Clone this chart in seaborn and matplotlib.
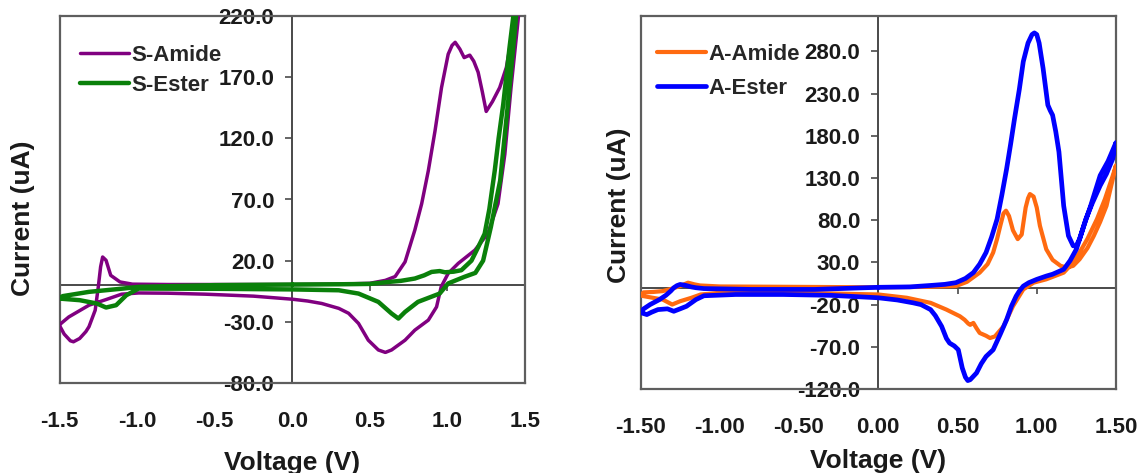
import matplotlib
matplotlib.use("Agg")
import matplotlib.pyplot as plt
import matplotlib.ticker as mticker
import numpy as np
import seaborn as sns

# ---------------- data (cyclic voltammograms, path order) ----------------
s_amide_v = [0.0, 0.3, 0.5, 0.60, 0.663, 0.727, 0.79, 0.834, 0.877, 0.92, 0.962, 1.005, 1.03, 1.05,
             1.08, 1.108, 1.144, 1.17, 1.198, 1.225, 1.25, 1.29, 1.337, 1.38, 1.41, 1.435, 1.47, 1.50,
             1.475, 1.455, 1.41, 1.37, 1.326, 1.26, 1.177, 1.07, 1.005, 0.96, 0.93, 0.877, 0.79, 0.727,
             0.64, 0.60, 0.555, 0.49, 0.427, 0.363, 0.30, 0.19, 0.10, 0.0, -0.25, -0.56, -0.8, -0.99,
             -1.10, -1.20, -1.31, -1.44, -1.49, -1.50,
             -1.47, -1.43, -1.41, -1.37, -1.33, -1.31, -1.27, -1.25, -1.235, -1.222, -1.20, -1.17,
             -1.11, -1.03, -0.8, -0.4, 0.0]
s_amide_i = [0.5, 0.8, 1.5, 3.9, 7, 19, 45, 66.5, 93.6, 126, 161.5, 188.8, 196, 198.5,
             193, 186, 188, 183, 174, 158, 142, 150, 161.5, 178, 200, 220, 255, 285,
             245, 216, 161.5, 107, 66.5, 42, 28.6, 17.8, 9.6, -1.3, -17.8, -28.6, -36.8, -45,
             -53, -55, -53, -45, -31.3, -23, -19, -15, -13, -11.5, -9, -7.4, -6.6, -6.4,
             -7.4, -11.8, -16.4, -26, -31.3, -33,
             -40, -45.5, -46.3, -43.6, -38, -34, -20.5, -1.5, 15, 23, 20.3, 8,
             2.6, 0.8, 0.5, 0.5, 0.5]

s_ester_v = [0.0, 0.3, 0.5, 0.62, 0.70, 0.79, 0.85, 0.898, 0.95, 0.984, 1.04, 1.09, 1.155, 1.198,
             1.24, 1.27, 1.305, 1.33, 1.36, 1.40, 1.425, 1.45, 1.50,
             1.455, 1.44, 1.39, 1.34, 1.28, 1.23, 1.18, 1.11, 1.005, 0.95, 0.81, 0.727, 0.684,
             0.64, 0.555, 0.427, 0.30, 0.0, -0.5, -0.99, -1.07, -1.135, -1.20, -1.26, -1.37, -1.50,
             -1.48, -1.31, -1.09, -0.99, -0.5, 0.0]
s_ester_i = [0.5, 0.7, 1.0, 2.6, 3.5, 5.4, 8, 10.8, 11.5, 10.5, 11, 12.2, 20, 31,
             42, 62, 93.6, 120, 148, 194, 220, 250, 300,
             240, 216, 148, 85.5, 47.5, 20, 10, 6.8, 1.4, -6.9, -13.7, -21.9, -27.3,
             -23.2, -13.7, -6.9, -4.2, -3.5, -3, -2.8, -8.3, -16.4, -18.3, -15, -12.3, -11,
             -9, -5.5, -2.8, -1.4, 0, 0.5]

a_amide_v = [0.0, 0.3, 0.49, 0.56, 0.64, 0.69, 0.725, 0.75, 0.77, 0.79, 0.806, 0.825, 0.85, 0.88,
             0.905, 0.915, 0.93, 0.945, 0.957, 0.98, 1.00, 1.02, 1.06, 1.10, 1.15, 1.19, 1.23,
             1.27, 1.32, 1.36, 1.40, 1.44, 1.50,
             1.48, 1.43, 1.38, 1.32, 1.27, 1.22, 1.17, 1.06, 0.98, 0.915, 0.85, 0.79, 0.736, 0.705,
             0.68, 0.64, 0.62, 0.60, 0.58, 0.568, 0.545, 0.515, 0.43, 0.33, 0.18, 0.0, -0.5, -1.0,
             -1.12, -1.18, -1.25, -1.30, -1.36, -1.48, -1.50,
             -1.48, -1.42, -1.36, -1.30, -1.25, -1.20, -1.16, -1.125, -1.0, -0.5, 0.0]
a_amide_i = [0.5, 1, 2, 7, 17.9, 28, 41.7, 58, 73.4, 88, 91.3, 85, 68, 57.6,
             63, 76, 95, 106, 111, 108, 95, 73.4, 45.6, 33, 26, 23.8, 26,
             33.7, 47, 61.5, 78, 97, 145,
             133, 105, 81.4, 58, 41.7, 28, 17.9, 10, 6, -2, -21.9, -45.8, -57.7, -59.6,
             -56.9, -53.6, -48, -41.7, -44, -42.5, -38, -33.8, -25.9, -17.9, -11.9, -8, -6, -6,
             -8, -12, -16, -19.9, -14, -10, -9,
             -5.5, -5, -4, -1, 2, 6, 4, 2.7, 1.5, 1, 0.5]

a_ester_v = [0.0, 0.2, 0.33, 0.42, 0.49, 0.55, 0.60, 0.64, 0.68, 0.715, 0.75, 0.78, 0.81, 0.835,
             0.86, 0.89, 0.915, 0.945, 0.97, 0.985, 1.00, 1.015, 1.04, 1.07, 1.085, 1.10, 1.12,
             1.14, 1.17, 1.20, 1.23, 1.25, 1.27, 1.30, 1.34, 1.40, 1.45, 1.50,
             1.48, 1.44, 1.40, 1.35, 1.31, 1.25, 1.21, 1.17, 1.10, 1.06, 1.00, 0.95, 0.915, 0.89,
             0.87, 0.84, 0.81, 0.77, 0.725, 0.68, 0.65, 0.62, 0.58, 0.565, 0.55, 0.53, 0.505, 0.48,
             0.45, 0.43, 0.40, 0.36, 0.33, 0.27, 0.22, 0.12, 0.0, -0.3, -0.6, -0.9, -1.10, -1.15,
             -1.21, -1.25, -1.29, -1.33, -1.39, -1.43, -1.46, -1.49, -1.50,
             -1.48, -1.44, -1.41, -1.38, -1.34, -1.31, -1.29, -1.27, -1.25, -1.22, -1.18, -1.15,
             -1.1, -0.8, -0.4, 0.0]
a_ester_i = [0.5, 1, 2.7, 4, 6, 11, 17.9, 28, 41.7, 60, 81.4, 110, 141, 170,
             200.6, 235, 268, 290, 300, 302, 300, 290, 260, 216.5, 210, 204.5, 185,
             161, 97, 61.5, 49.6, 50, 57.6, 75, 97, 133, 150, 172,
             153, 135, 121, 100, 81.4, 45.6, 32, 21.8, 16, 13.8, 9.9, 6, 1.9, -4,
             -10, -22, -37.8, -55, -73.5, -81.5, -90, -101, -109, -110, -106, -95, -73.5, -69,
             -65.6, -60, -45.8, -33, -25.9, -20, -17.9, -14.5, -11.9, -9, -8, -8, -9.5, -14,
             -22, -25, -27.9, -25, -25.9, -29, -31.8, -30, -29,
             -25, -20, -17, -14, -9, -4, 0, 2.5, 3.9, 3, 1, 0,
             -1, -2, -2, 0.5]

left_labels = ["S-Amide", "S-Ester"]
right_labels = ["A-Amide", "A-Ester"]
left_xticks = [-1.5, -1.0, -0.5, 0.0, 0.5, 1.0, 1.5]
right_xticks = [-1.5, -1.0, -0.5, 0.0, 0.5, 1.0, 1.5]
left_yticks = [-80, -30, 20, 70, 120, 170, 220]
right_yticks = [-120, -70, -20, 30, 80, 130, 180, 230, 280]
left_ylim = (-80, 220)
right_ylim = (-120, 322)

# ---------------- style ----------------
sns.set_style("white")
plt.rcParams["font.family"] = ["Liberation Sans", "DejaVu Sans"]
plt.rcParams["font.weight"] = "bold"
plt.rcParams["axes.unicode_minus"] = False

FRAME = "#5e5e5e"
ZERO = "#4a4a4a"

fig = plt.figure(figsize=(11.39, 4.73), dpi=100)
axL = fig.add_axes([59.5 / 1139, 1 - 383 / 473, 465.5 / 1139, 367 / 473])
axR = fig.add_axes([640.5 / 1139, 1 - 389 / 473, 475.5 / 1139, 373 / 473])


def draw_panel(ax, series, ylim, xticks, yticks, xfmt, legend_anchor, labelspacing,
               ylab_xy, xlab_xy):
    for v, i, lab, col, lw in series:
        sns.lineplot(x=v, y=i, sort=False, estimator=None, color=col, linewidth=lw,
                     label=lab, ax=ax, zorder=5)
        ax.lines[-1].set_solid_joinstyle("round")
        ax.lines[-1].set_solid_capstyle("round")
    ax.set_xlim(-1.5, 1.5)
    ax.set_ylim(*ylim)
    ax.grid(False)
    for sp in ax.spines.values():
        sp.set_visible(True)
        sp.set_color(FRAME)
        sp.set_linewidth(1.6)
    ax.set_yticks([])
    ax.set_xticks(xticks)
    ax.xaxis.set_major_formatter(mticker.FormatStrFormatter(xfmt))
    ax.tick_params(axis="x", length=0, pad=20, labelsize=16, labelcolor="#1a1a1a")
    for t in ax.get_xticklabels():
        t.set_fontweight("bold")

    # vertical zero axis carrying the y tick labels
    sy = ax.secondary_yaxis(0.5)
    sy.set_alignment("left")
    sy.set_yticks(yticks)
    sy.yaxis.set_major_formatter(mticker.FormatStrFormatter("%.1f"))
    sy.tick_params(axis="y", direction="out", length=5, width=1.2, color=ZERO,
                   pad=8, labelsize=16, labelcolor="#1a1a1a")
    sy.spines["left"].set_color(ZERO)
    sy.spines["left"].set_linewidth(1.4)
    for t in sy.get_yticklabels():
        t.set_fontweight("bold")

    # horizontal zero axis with small tick marks
    y0 = (0 - ylim[0]) / (ylim[1] - ylim[0])
    sx = ax.secondary_xaxis(y0)
    sx.set_xticks(xticks)
    sx.tick_params(axis="x", direction="out", length=4, width=1.2, color=ZERO,
                   labelbottom=False, labeltop=False)
    for k in ("bottom", "top"):
        sx.spines[k].set_color(ZERO)
        sx.spines[k].set_linewidth(1.4)

    ax.set_xlabel("Voltage (V)", fontsize=19, fontweight="bold", color="#1a1a1a")
    ax.set_ylabel("Current (uA)", fontsize=19, fontweight="bold", color="#1a1a1a")
    ax.yaxis.set_label_coords(*ylab_xy)
    ax.xaxis.set_label_coords(*xlab_xy)

    ax.legend(loc="upper left", bbox_to_anchor=legend_anchor, frameon=False,
              prop={"size": 16, "weight": "bold"}, handlelength=2.2, handletextpad=0.1,
              borderpad=0, borderaxespad=0, labelspacing=labelspacing)


draw_panel(axL,
           [(s_amide_v, s_amide_i, left_labels[0], "#800080", 2.5),
            (s_ester_v, s_ester_i, left_labels[1], "#0a800a", 3.2)],
           left_ylim, left_xticks, left_yticks, "%.1f", (0.045, 0.921), 0.39,
           (-0.052, 0.45), (0.5, -0.185))

draw_panel(axR,
           [(a_amide_v, a_amide_i, right_labels[0], "#ff6a10", 3.0),
            (a_ester_v, a_ester_i, right_labels[1], "#0000ff", 3.4)],
           right_ylim, right_xticks, right_yticks, "%.2f", (0.035, 0.925), 0.59,
           (-0.021, 0.493), (0.5, -0.16))

fig.savefig("out.png", dpi=100)
